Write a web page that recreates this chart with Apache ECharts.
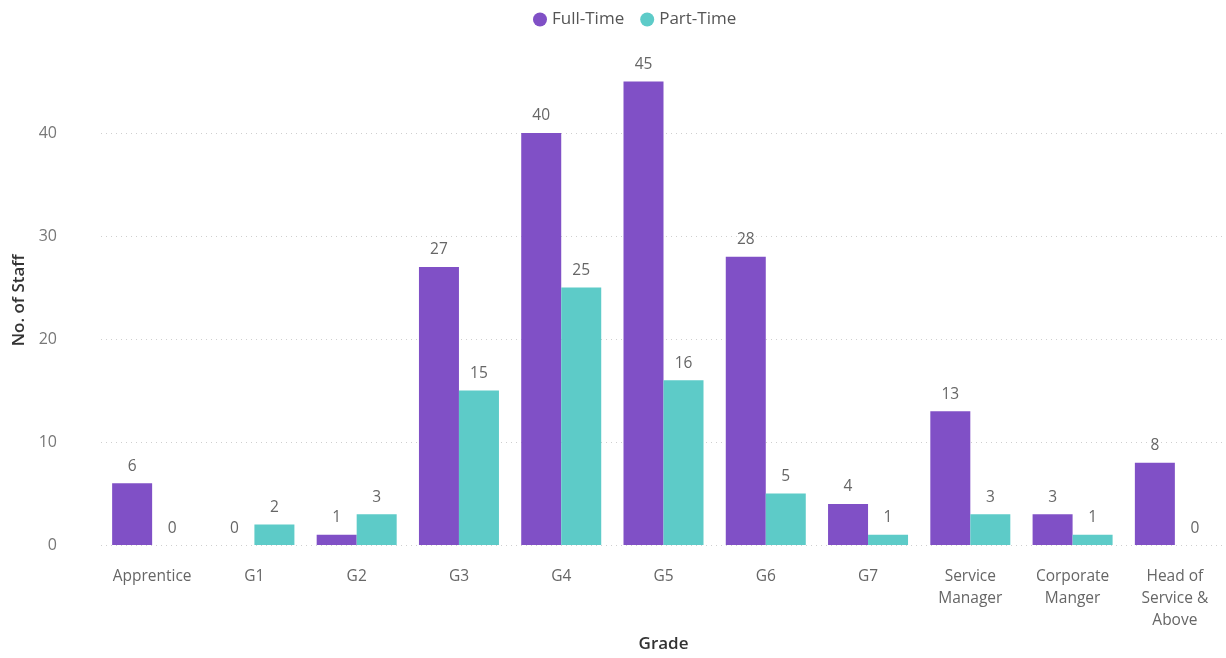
<!DOCTYPE html>
<html>
<head>
<meta charset="utf-8">
<title>Staff by Grade</title>
<script src="https://cdn.jsdelivr.net/npm/echarts@6/dist/echarts.min.js"></script>
<style>
  html, body { margin: 0; padding: 0; background: #ffffff; overflow: hidden; }
  #chart { width: 1226px; height: 658px; }
</style>
</head>
<body>
<div id="chart"></div>
<script>
// Staff headcount per grade, split by contract type
const grades = ['Apprentice', 'G1', 'G2', 'G3', 'G4', 'G5', 'G6', 'G7',
  'Service\nManager', 'Corporate\nManger', 'Head of\nService &\nAbove'];
const fullTime = [6, 0, 1, 27, 40, 45, 28, 4, 13, 3, 8];
const partTime = [0, 2, 3, 15, 25, 16, 5, 1, 3, 1, 0];
const seriesNames = ['Full-Time', 'Part-Time'];

const font = "'Segoe UI', 'Open Sans', 'Noto Sans', sans-serif";
const purple = '#8050C6';
const teal = '#5DCBC8';

const chart = echarts.init(document.getElementById('chart'), null, { renderer: 'canvas' });

const valueLabel = {
  show: true,
  position: 'top',
  distance: 9,
  color: '#666',
  fontSize: 15.5,
  fontFamily: font
};

chart.setOption({
  animation: false,
  legend: {
    top: 6,
    left: 528,
    icon: 'circle',
    itemWidth: 14,
    itemHeight: 14,
    itemGap: 16,
    textStyle: { color: '#555', fontSize: 17, fontFamily: font },
    data: seriesNames
  },
  grid: { left: 101, top: 81.5, width: 1130, height: 468, containLabel: false },
  xAxis: {
    type: 'category',
    data: grades,
    name: 'Grade',
    nameLocation: 'middle',
    nameGap: 90,
    nameTextStyle: { color: '#333', fontSize: 17, fontFamily: font, fontWeight: 600 },
    axisLine: { show: false },
    axisTick: { show: false },
    axisLabel: {
      color: '#666',
      fontSize: 15.5,
      fontFamily: font,
      lineHeight: 22,
      margin: 20,
      interval: 0
    }
  },
  yAxis: {
    type: 'value',
    min: 0,
    max: 45,
    interval: 10,
    name: 'No. of Staff',
    nameLocation: 'middle',
    nameGap: 50,
    nameTextStyle: {
      color: '#333', fontSize: 17, fontFamily: font, fontWeight: 600,
      padding: [0, 0, 0, 26]
    },
    axisLine: { show: false },
    axisTick: { show: false },
    axisLabel: {
      color: '#777',
      fontSize: 16,
      fontFamily: font,
      margin: 44,
      showMaxLabel: false
    },
    splitLine: {
      show: true,
      showMaxLine: false,
      lineStyle: { color: '#cfcfcf', type: [1, 4], width: 1 }
    }
  },
  series: [
    {
      name: seriesNames[0],
      type: 'bar',
      data: fullTime,
      barWidth: 40,
      barGap: '0%',
      itemStyle: { color: purple },
      label: valueLabel
    },
    {
      name: seriesNames[1],
      type: 'bar',
      data: partTime,
      barWidth: 40,
      barGap: '0%',
      itemStyle: { color: teal },
      label: valueLabel
    }
  ]
});
</script>
</body>
</html>
